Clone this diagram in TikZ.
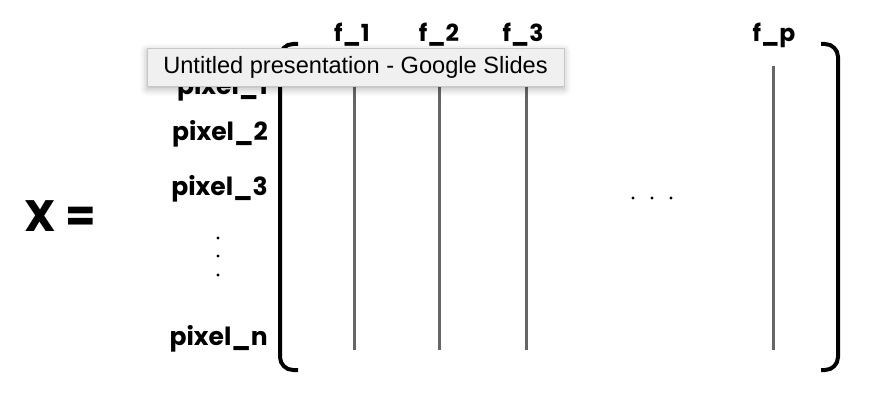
\documentclass[tikz,border=0pt]{standalone}
\usepackage{fontspec}
\setmainfont{Poppins}
\newfontfamily\tipfont{Liberation Sans}
\usetikzlibrary{shadows.blur}
\begin{document}
\begin{tikzpicture}[x=1pt,y=-1pt,
  lbl/.style={font=\fontsize{25}{29}\selectfont\bfseries, inner sep=0pt},
  flbl/.style={font=\fontsize{23.5}{27}\selectfont\bfseries, inner sep=0pt},
  col/.style={draw=black!60, line width=3pt},
  brk/.style={draw=black, line width=4pt, rounded corners=13pt},
  dotc/.style={fill=black, circle, inner sep=0pt, minimum size=3.4pt},
  tip/.style={draw=black!22, fill=black!6, line width=0.8pt, inner sep=0pt,
    minimum width=417pt, minimum height=38pt,
    blur shadow={shadow xshift=0pt, shadow yshift=-3pt, shadow blur radius=7pt, shadow opacity=30},
    font=\tipfont\fontsize{23.6}{26}\selectfont}
]
\useasboundingbox (0,0) rectangle (880,406);
% X =
\node[font=\fontsize{44}{48}\selectfont\bfseries, inner sep=0pt] (X) at (60,216) {X =};
% row labels
\node[lbl, anchor=base east] (p1) at (268,95) {pixel\_1};
\node[lbl, anchor=base east] (p2) at (268,141) {pixel\_2};
\node[lbl, anchor=base east] (p3) at (268,195) {pixel\_3};
\node[lbl, anchor=base east] (pn) at (268,345) {pixel\_n};
\node[dotc] (vd1) at (218,238) {};
\node[dotc] (vd2) at (218,256) {};
\node[dotc] (vd3) at (218,275) {};
% column labels
\node[flbl, anchor=base] (f1) at (352,42) {f\_1};
\node[flbl, anchor=base] (f2) at (439,42) {f\_2};
\node[flbl, anchor=base] (f3) at (523,42) {f\_3};
\node[flbl, anchor=base] (fp) at (774,42) {f\_p};
% column lines
\foreach \n/\x in {a/354,b/439,c/526,p/773}{
  \coordinate (t\n) at (\x,66);
  \coordinate (b\n) at (\x,350);
  \draw[col] (t\n) -- (b\n);
}
% horizontal dots
\node[dotc] (hd1) at (633,198) {};
\node[dotc] (hd2) at (652,198) {};
\node[dotc] (hd3) at (671,198) {};
% brackets
\coordinate (lt) at (298,44); \coordinate (ltc) at (280,44);
\coordinate (lbc) at (280,370); \coordinate (lb) at (298,370);
\draw[brk] (lt) -- (ltc) -- (lbc) -- (lb);
\coordinate (rt) at (821,44); \coordinate (rtc) at (838,44);
\coordinate (rbc) at (838,370); \coordinate (rb) at (821,370);
\draw[brk] (rt) -- (rtc) -- (rbc) -- (rb);
% tooltip
\node[tip] (tooltip) at (355.5,67) {Untitled presentation - Google Slides};
\end{tikzpicture}
\end{document}
